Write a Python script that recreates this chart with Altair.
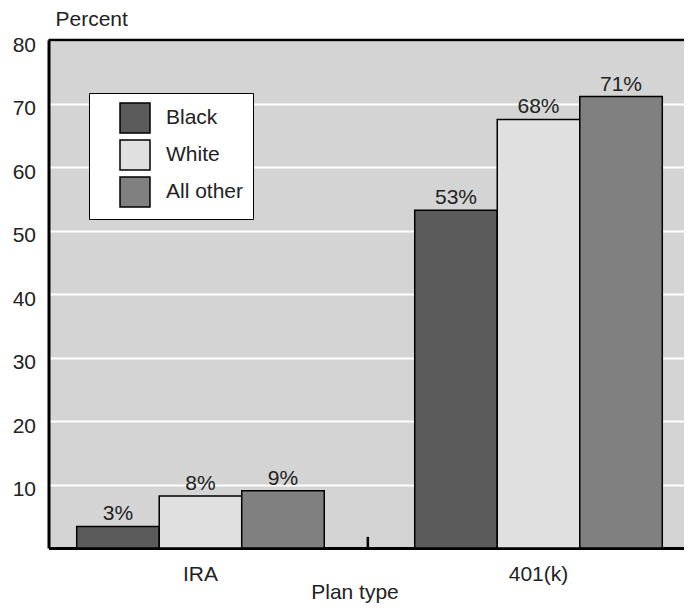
import altair as alt
import pandas as pd

PLANS = ["IRA", "IRA", "IRA", "401(k)", "401(k)", "401(k)"]
RACES = ["Black", "White", "All other", "Black", "White", "All other"]
VALUES = [3.4, 8.2, 9.0, 53.2, 67.5, 71.1]
LABELS = ["3%", "8%", "9%", "53%", "68%", "71%"]
PLAN_ORDER = ["IRA", "401(k)"]
RACE_ORDER = ["Black", "White", "All other"]
COLORS = ["#5b5b5b", "#e0e0e0", "#808080"]
Y_TICKS = [10, 20, 30, 40, 50, 60, 70, 80]
TOP = [80]
DIVIDER = [0, 1.75]

df = pd.DataFrame({"plan": PLANS, "race": RACES, "value": VALUES, "label": LABELS})
FONT = "Liberation Sans"
FS = 21

x_enc = alt.X(
    "plan:N", sort=PLAN_ORDER,
    scale=alt.Scale(paddingInner=0.15, paddingOuter=0.015, align=0.82),
    axis=alt.Axis(title="Plan type", ticks=False, labelAngle=0, domainColor="black",
                  domainWidth=3, labelPadding=15, labelFontSize=FS, labelFont=FONT,
                  labelColor="#222", titleFont=FONT, titleFontSize=FS, titleFontWeight="normal",
                  titleColor="#222", titleX=306, titleY=50, titleBaseline="alphabetic",
                  titleAlign="center", grid=False),
)
xo_enc = alt.XOffset("race:N", sort=RACE_ORDER, scale=alt.Scale(paddingOuter=0.241, paddingInner=0))
y_scale = alt.Scale(domain=[0, 80], nice=False)

bars = alt.Chart(df).mark_bar(stroke="black", strokeWidth=1.5).encode(
    x=x_enc, xOffset=xo_enc,
    y=alt.Y("value:Q", scale=y_scale,
            axis=alt.Axis(title="Percent", titleAngle=0, titleX=6.5, titleY=-15,
                          titleAlign="left", titleBaseline="alphabetic", titleFont=FONT,
                          titleFontSize=FS, titleFontWeight="normal", titleColor="#222",
                          values=Y_TICKS, ticks=False, domainColor="black",
                          domainWidth=3, labelFontSize=FS, labelFont=FONT, labelColor="#222",
                          labelPadding=13, labelOffset=5, gridColor="white", gridWidth=2,
                          gridOpacity=1)),
    color=alt.Color("race:N", scale=alt.Scale(domain=RACE_ORDER, range=COLORS),
                    legend=alt.Legend(title=None, orient="none", legendX=40.5, legendY=53,
                                      fillColor="white", strokeColor="black", padding=9,
                                      symbolType="square", symbolSize=900,
                                      symbolStrokeColor="black", symbolStrokeWidth=1.5,
                                      symbolOffset=21, labelFontSize=FS, labelFont=FONT,
                                      labelColor="#222", labelOffset=15, rowPadding=1)),
)

text = alt.Chart(df).mark_text(dy=-6, fontSize=FS, font=FONT, color="#222",
                               baseline="alphabetic").encode(
    x=x_enc, xOffset=xo_enc, y=alt.Y("value:Q", scale=y_scale), text="label:N"
)

top_rule = alt.Chart(pd.DataFrame({"y": TOP})).mark_rule(color="black", strokeWidth=2.5).encode(
    y=alt.Y("y:Q", scale=y_scale)
)

divider = alt.Chart(pd.DataFrame({"plan": ["401(k)"], "y0": [DIVIDER[0]], "y1": [DIVIDER[1]]})).mark_rule(
    color="black", strokeWidth=2.5).encode(
    x=alt.X("plan:N", sort=PLAN_ORDER, bandPosition=0),
    xOffset=alt.value(-27),
    y=alt.Y("y0:Q", scale=y_scale), y2="y1:Q"
)

chart = alt.layer(bars, text, top_rule, divider).properties(
    width=635.5, height=508,
    autosize=alt.AutoSizeParams(type="none"),
    padding={"left": 40.5, "top": 32, "right": 0, "bottom": 55},
    background="white",
).configure_view(fill="#d4d4d4", strokeWidth=0)

chart.save("out.html", embed_options={"renderer": "svg", "actions": False})
